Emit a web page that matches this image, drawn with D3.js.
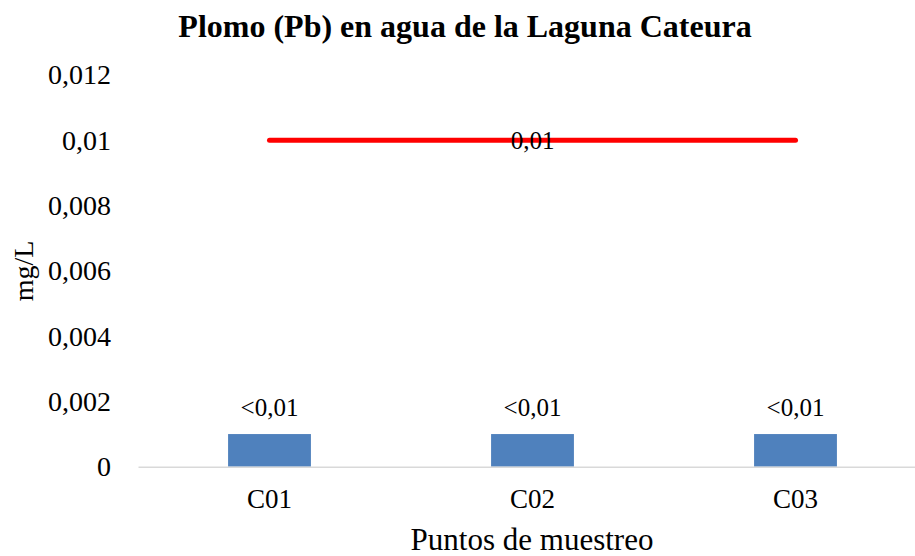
<!DOCTYPE html>
<html>
<head>
<meta charset="utf-8">
<script src="https://cdn.jsdelivr.net/npm/d3@7"></script>
<style>
  html, body { margin: 0; padding: 0; background: #fff; }
  svg { display: block; overflow: hidden; }
  text { font-family: "Liberation Serif", "Times New Roman", Times, serif; fill: #000; }
</style>
</head>
<body>
<div id="chart"></div>
<script>
const categories = ["C01", "C02", "C03"];
const values = [0.001, 0.001, 0.001];
const valueLabels = ["<0,01", "<0,01", "<0,01"];
const limitValue = 0.01;
const limitLabel = "0,01";
const yTicks = [0, 0.002, 0.004, 0.006, 0.008, 0.01, 0.012];
const yTickLabels = ["0", "0,002", "0,004", "0,006", "0,008", "0,01", "0,012"];
const title = "Plomo (Pb) en agua de la Laguna Cateura";
const xTitle = "Puntos de muestreo";
const yTitle = "mg/L";

const W = 915, H = 556;
const svg = d3.select("#chart").append("svg").attr("width", W).attr("height", H);

const x = d3.scaleBand().domain(categories).range([138, 927]).paddingInner(0.685).paddingOuter(0.3425);
const y = d3.scaleLinear().domain([0, 0.012]).range([466.7, 75]);

// y axis (labels only)
const yAxis = d3.axisLeft(y).tickValues(yTicks).tickSize(0).tickPadding(0)
  .tickFormat((d, i) => yTickLabels[i]);
const gy = svg.append("g").attr("transform", "translate(111,0)").call(yAxis);
gy.select(".domain").remove();
gy.selectAll("text").attr("font-family", "Liberation Serif, Times New Roman, serif")
  .attr("font-size", 28).attr("fill", "#000");

// bars
svg.append("g").selectAll("rect").data(values).join("rect")
  .attr("x", (d, i) => x(categories[i]))
  .attr("y", d => y(d))
  .attr("width", x.bandwidth())
  .attr("height", d => y(0) - y(d))
  .attr("fill", "#4f81bd");

// baseline axis
const xAxis = d3.axisBottom(x).tickSize(0).tickPadding(0);
const gx = svg.append("g").attr("transform", `translate(0,${y(0)})`).call(xAxis);
gx.select(".domain").attr("stroke", "#d9d9d9").attr("stroke-width", 1.6);
gx.selectAll("text").attr("font-family", "Liberation Serif, Times New Roman, serif")
  .attr("font-size", 27).attr("fill", "#000").attr("dy", 41).attr("y", 0);

// bar labels
svg.append("g").selectAll("text").data(values).join("text")
  .attr("x", (d, i) => x(categories[i]) + x.bandwidth() / 2)
  .attr("y", d => y(d) - 18)
  .attr("text-anchor", "middle")
  .attr("font-size", 25)
  .text((d, i) => valueLabels[i]);

// limit line
const cx = c => x(c) + x.bandwidth() / 2;
const line = d3.line().x(d => cx(d)).y(() => y(limitValue));
svg.append("path").datum(categories).attr("d", line)
  .attr("fill", "none").attr("stroke", "#ff0000").attr("stroke-width", 5)
  .attr("stroke-linecap", "round");
svg.append("text")
  .attr("x", cx(categories[1]))
  .attr("y", y(limitValue) + 8.5)
  .attr("text-anchor", "middle")
  .attr("font-size", 25)
  .text(limitLabel);

// titles
svg.append("text").attr("x", 465).attr("y", 37).attr("text-anchor", "middle")
  .attr("font-size", 32).attr("font-weight", "bold").text(title);
svg.append("text").attr("x", 532).attr("y", 550).attr("text-anchor", "middle")
  .attr("font-size", 31).text(xTitle);
svg.append("text").attr("transform", "translate(33,271) rotate(-90)")
  .attr("text-anchor", "middle").attr("font-size", 28).text(yTitle);
</script>
</body>
</html>
